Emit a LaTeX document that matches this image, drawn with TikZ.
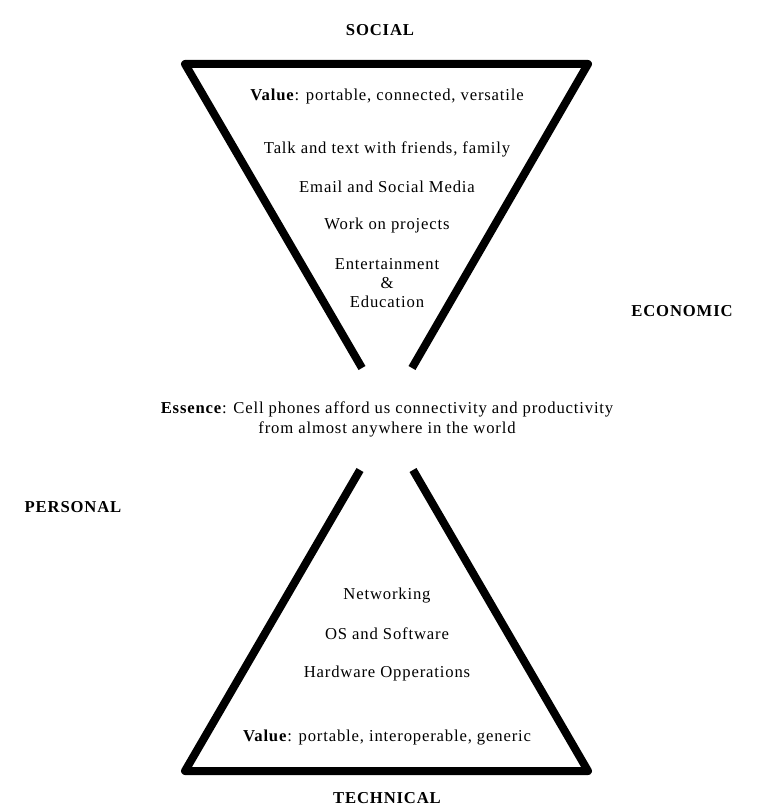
\documentclass[tikz,border=0pt]{standalone}
\usepackage{fontspec}
\setmainfont[LetterSpace=5]{Liberation Serif}
\begin{document}
\begin{tikzpicture}[x=0.75pt,y=-0.75pt,
  txt/.style={inner sep=0pt,font=\fontsize{12.5}{14.5}\selectfont,align=center},
  side/.style={txt,font=\fontsize{12.5}{14.5}\selectfont\bfseries},
  edge/.style={line width=6pt,line join=round}]
\useasboundingbox (0,0) rectangle (768,812);
% social side (top)
\draw[edge] (362,368)--(185,64)--(588,64)--(412,368);
% technical side (bottom)
\draw[edge] (360,470)--(185,771)--(588,771)--(413,470);
%
\node[side] (social) at (380,30) {SOCIAL};
\node[side] (economic) at (682,311) {ECONOMIC};
\node[side] (personal) at (73,507) {PERSONAL};
\node[side] (technical) at (387,798) {TECHNICAL};
%top
\node[txt] (valtop) at (387,96) {\textbf{Value}: portable, connected, versatile};
\node[txt] (talk) at (387,149) {Talk and text with friends, family};
\node[txt] (email) at (387,187) {Email and Social Media};
\node[txt] (work) at (387,225) {Work on projects};
\node[txt] (fun) at (387,283) {Entertainment\\ \&\\ Education};
%middle
\node[txt,font=\fontsize{12.5}{15}\selectfont] (essence) at (387,419)
{\textbf{Essence}: Cell phones afford us connectivity and productivity\\ from almost anywhere in the world};
%bottom
\node[txt] (net) at (387,596) {Networking};
\node[txt] (os) at (387,634) {OS and Software};
\node[txt] (hw) at (387,673) {Hardware Opperations};
\node[txt] (valbot) at (387,738) {\textbf{Value}: portable, interoperable, generic};
\end{tikzpicture}
\end{document}
